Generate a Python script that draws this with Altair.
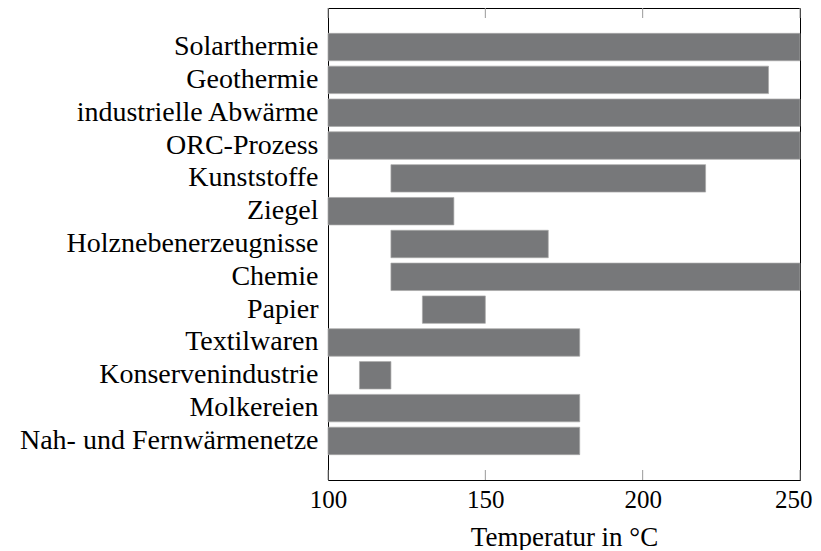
import altair as alt
import pandas as pd

categories = [
    "Solarthermie",
    "Geothermie",
    "industrielle Abwärme",
    "ORC-Prozess",
    "Kunststoffe",
    "Ziegel",
    "Holznebenerzeugnisse",
    "Chemie",
    "Papier",
    "Textilwaren",
    "Konservenindustrie",
    "Molkereien",
    "Nah- und Fernwärmenetze",
]
starts = [100, 100, 100, 100, 120, 100, 120, 120, 130, 100, 110, 100, 100]
ends = [250, 240, 250, 250, 220, 140, 170, 250, 150, 180, 120, 180, 180]
tick_values = [100, 150, 200, 250]

df = pd.DataFrame({"cat": categories, "start": starts, "end": ends})
ticks = pd.DataFrame({"t": tick_values})

FONT = "Liberation Serif"
xscale = alt.Scale(domain=[100, 250], nice=False, zero=False)

bars = alt.Chart(df).mark_bar(color="#77787a", stroke="#a8a8a8", strokeWidth=0.7).encode(
    x=alt.X(
        "start:Q",
        scale=xscale,
        axis=alt.Axis(
            values=tick_values,
            ticks=False,
            tickSize=0,
            domain=False,
            grid=False,
            labelFlush=False,
            labelAlign={"condition": {"test": "datum.value == 250", "value": "right"}, "value": "center"},
            labelOffset={"condition": {"test": "datum.value == 250", "value": 12}, "value": 0},
            labelFont=FONT,
            labelFontSize=25,
            labelColor="black",
            labelPadding=7,
            title="Temperatur in °C",
            titleFont=FONT,
            titleFontSize=27,
            titleFontWeight="normal",
            titleColor="black",
            titlePadding=12,
        ),
    ),
    x2="end:Q",
    y=alt.Y(
        "cat:N",
        sort=categories,
        scale=alt.Scale(paddingInner=0.164, paddingOuter=0.772),
        axis=alt.Axis(
            ticks=False,
            tickSize=0,
            domain=False,
            labelFont=FONT,
            labelFontSize=28,
            labelColor="black",
            labelPadding=10,
            labelLimit=400,
            title=None,
        ),
    ),
)

top_ticks = alt.Chart(ticks).mark_rule(color="#999999", strokeWidth=1).encode(
    x=alt.X("t:Q", scale=xscale),
    y=alt.value(0),
    y2=alt.value(10),
)
bottom_ticks = alt.Chart(ticks).mark_rule(color="#999999", strokeWidth=1).encode(
    x=alt.X("t:Q", scale=xscale),
    y=alt.value(462),
    y2=alt.value(472),
)

chart = (
    alt.layer(bars, top_ticks, bottom_ticks)
    .properties(
        width=472,
        height=472,
        autosize=alt.AutoSizeParams(type="none"),
        padding={"left": 320, "top": 0, "right": 13, "bottom": 70},
    )
    .configure_view(stroke="black", strokeWidth=1)
)

chart.save("out.html", embed_options={"renderer": "svg", "actions": False})
